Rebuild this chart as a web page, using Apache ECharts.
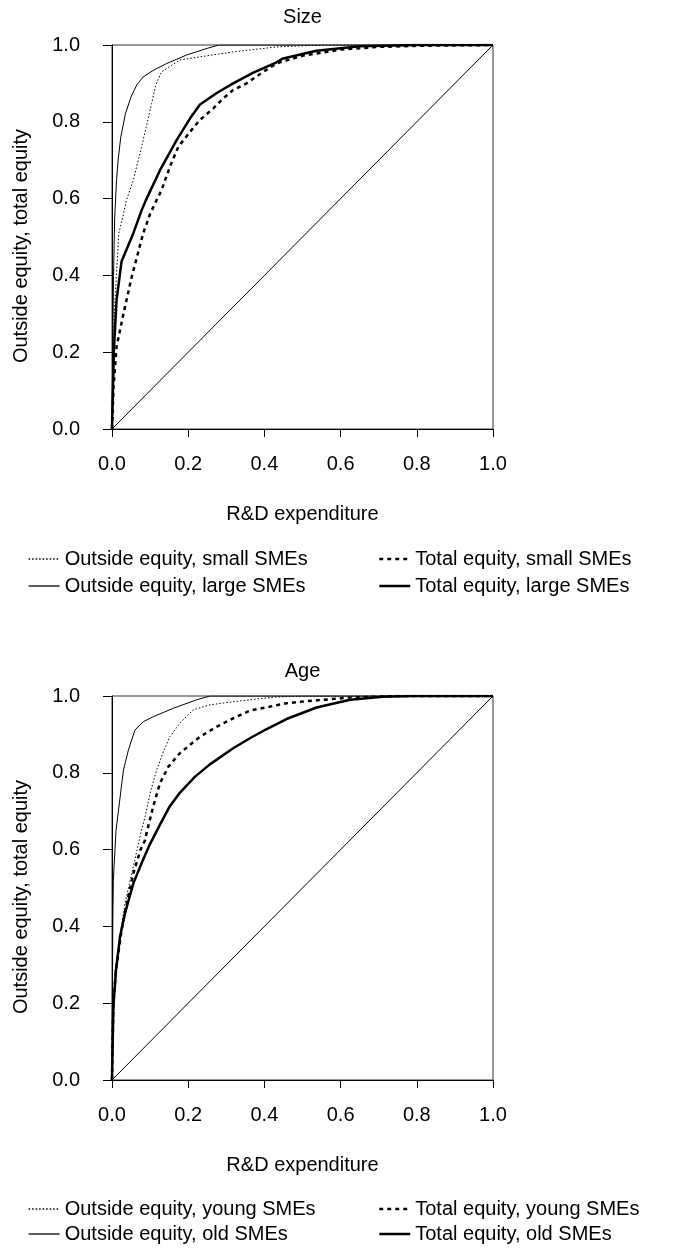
<!DOCTYPE html>
<html>
<head>
<meta charset="utf-8">
<script src="https://cdn.jsdelivr.net/npm/echarts@6/dist/echarts.min.js"></script>
<style>
html,body{margin:0;padding:0;background:#fff;}
#c{width:700px;height:1254px;}
</style>
</head>
<body>
<div id="c"></div>
<script>
// ---- data (x = share of R&D expenditure, y = cumulative share of equity) ----
var xTicks = ['0.0','0.2','0.4','0.6','0.8','1.0'];
var titles = ['Size','Age'];
var diagonal = [[0,0],[1,1]];

// Size panel
var sizeNames = ['Outside equity, small SMEs','Outside equity, large SMEs','Total equity, small SMEs','Total equity, large SMEs'];
var sizeOutSmall = [[0,0],[0.003,0.2],[0.008,0.34],[0.018,0.51],[0.03,0.56],[0.038,0.596],[0.056,0.648],[0.082,0.753],[0.104,0.848],[0.115,0.896],[0.13,0.93],[0.178,0.961],[0.25,0.972],[0.318,0.982],[0.432,0.995],[0.55,1],[1,1]];
var sizeOutLarge = [[0,0],[0.002,0.2],[0.004,0.4],[0.007,0.55],[0.012,0.65],[0.016,0.7],[0.023,0.76],[0.035,0.82],[0.05,0.865],[0.065,0.896],[0.082,0.917],[0.11,0.935],[0.144,0.952],[0.196,0.974],[0.249,0.991],[0.28,1],[1,1]];
var sizeTotSmall = [[0,0],[0.004,0.11],[0.012,0.214],[0.03,0.30],[0.052,0.397],[0.082,0.51],[0.1,0.56],[0.117,0.596],[0.13,0.622],[0.152,0.683],[0.174,0.735],[0.209,0.779],[0.231,0.805],[0.266,0.835],[0.292,0.861],[0.318,0.883],[0.353,0.9],[0.397,0.93],[0.432,0.952],[0.5,0.972],[0.6,0.988],[0.7,0.995],[0.8,0.998],[1,1]];
var sizeTotLarge = [[0,0],[0.005,0.206],[0.012,0.336],[0.025,0.436],[0.056,0.51],[0.078,0.57],[0.089,0.596],[0.126,0.674],[0.17,0.753],[0.205,0.809],[0.231,0.845],[0.275,0.875],[0.318,0.9],[0.371,0.928],[0.432,0.955],[0.449,0.965],[0.537,0.985],[0.65,0.997],[0.8,1],[1,1]];

// Age panel
var ageNames = ['Outside equity, young SMEs','Outside equity, old SMEs','Total equity, young SMEs','Total equity, old SMEs'];
var ageOutYoung = [[0,0],[0.008,0.286],[0.021,0.373],[0.034,0.46],[0.052,0.538],[0.075,0.64],[0.087,0.686],[0.1,0.747],[0.117,0.807],[0.135,0.855],[0.152,0.894],[0.178,0.929],[0.213,0.964],[0.257,0.977],[0.318,0.985],[0.423,0.997],[0.5,1],[1,1]];
var ageOutOld = [[0,0],[0.001,0.2],[0.002,0.4],[0.0035,0.52],[0.0105,0.65],[0.03,0.807],[0.043,0.859],[0.06,0.911],[0.082,0.933],[0.108,0.946],[0.161,0.968],[0.222,0.99],[0.257,1],[1,1]];
var ageTotYoung = [[0,0],[0.0035,0.2],[0.0105,0.286],[0.025,0.39],[0.039,0.46],[0.056,0.538],[0.075,0.6],[0.087,0.625],[0.09,0.64],[0.108,0.712],[0.126,0.773],[0.148,0.816],[0.178,0.851],[0.231,0.894],[0.275,0.92],[0.318,0.942],[0.362,0.962],[0.458,0.981],[0.493,0.985],[0.625,0.996],[0.75,1],[1,1]];
var ageTotOld = [[0,0],[0.0035,0.19],[0.0105,0.286],[0.021,0.373],[0.034,0.434],[0.056,0.512],[0.08,0.57],[0.1,0.615],[0.126,0.665],[0.15,0.71],[0.178,0.748],[0.218,0.79],[0.257,0.822],[0.318,0.864],[0.362,0.89],[0.406,0.914],[0.458,0.94],[0.537,0.97],[0.625,0.99],[0.711,0.998],[0.79,1],[1,1]];

// ---- chart ----
var FONT = '"Liberation Sans", Arial, Helvetica, sans-serif';
var styles = [
  {width:1, type:[1.5,2], lw:1.3},   // outside, first group (dotted)
  {width:1, type:'solid', lw:1.3},   // outside, second group (thin solid)
  {width:2.5, type:[4,4], lw:2.5},   // total, first group (thick dashed)
  {width:2.5, type:'solid', lw:2.5}  // total, second group (thick solid)
];
var grids = [
  {left:112, width:381, top:45, height:384},
  {left:112, width:381, top:696, height:384}
];
var txt = {color:'#000', fontFamily:FONT, fontSize:20};

function xAx(i){
  return {type:'value', gridIndex:i, min:0, max:1, interval:0.2,
    name:'R&D expenditure', nameLocation:'middle', nameGap:75, nameTextStyle:txt,
    axisLine:{lineStyle:{color:'#000', width:1}},
    axisTick:{length:8, lineStyle:{color:'#000'}},
    axisLabel:Object.assign({margin:25, formatter:function(v){return xTicks[Math.round(v/0.2)];}}, txt),
    splitLine:{show:false}};
}
function yAx(i){
  return {type:'value', gridIndex:i, min:0, max:1, interval:0.2,
    name:'Outside equity, total equity', nameLocation:'middle', nameGap:81,
    nameTextStyle:Object.assign({padding:[0,18,0,0]}, txt),
    axisLine:{lineStyle:{color:'#000', width:1}},
    axisTick:{length:9, lineStyle:{color:'#000'}},
    axisLabel:Object.assign({margin:32, formatter:function(v){return xTicks[Math.round(v/0.2)];}}, txt),
    splitLine:{show:false}};
}
function mk(name, data, st, i){
  return {type:'line', name:name, data:data, xAxisIndex:i, yAxisIndex:i,
    symbol:'none', smooth:false, silent:true, animation:false,
    itemStyle:{color:'#000'},
    lineStyle:{color:'#000', width:st.width, type:st.type}};
}
var series = [];
[[sizeNames,[sizeOutSmall,sizeOutLarge,sizeTotSmall,sizeTotLarge]],
 [ageNames,[ageOutYoung,ageOutOld,ageTotYoung,ageTotOld]]].forEach(function(p,i){
  series.push({type:'line', data:diagonal, xAxisIndex:i, yAxisIndex:i, symbol:'none', silent:true,
    animation:false, lineStyle:{color:'#000', width:1}});
  p[1].forEach(function(d,k){ series.push(mk(p[0][k], d, styles[k], i)); });
});

var legendRows = [[549,576],[1199,1224]];
var legends = [];
[sizeNames, ageNames].forEach(function(names,i){
  var pos = [[28,legendRows[i][0]],[28,legendRows[i][1]],[378,legendRows[i][0]],[378,legendRows[i][1]]];
  names.forEach(function(n,k){
    legends.push({data:[n], left:pos[k][0], top:pos[k][1], itemWidth:31, itemHeight:12,
      selectedMode:false, padding:0,
      itemStyle:{opacity:0, borderWidth:0},
      lineStyle:{color:'#000', width:styles[k].lw, type:styles[k].type, opacity:1},
      textStyle:{color:'#000', fontFamily:FONT, fontSize:20}});
  });
});

var chart = echarts.init(document.getElementById('c'), null, {renderer:'canvas'});
chart.setOption({
  animation:false,
  backgroundColor:'#fff',
  grid: grids.map(function(g){ return Object.assign({show:true, borderColor:'#333', borderWidth:1, backgroundColor:'transparent'}, g); }),
  xAxis:[xAx(0), xAx(1)],
  yAxis:[yAx(0), yAx(1)],
  legend: legends,
  graphic: [
    {type:'text', x:302.5, y:17, style:{text:titles[0], fill:'#000', font:'20px '+FONT, textAlign:'center', textVerticalAlign:'middle'}},
    {type:'text', x:302.5, y:671, style:{text:titles[1], fill:'#000', font:'20px '+FONT, textAlign:'center', textVerticalAlign:'middle'}}
  ],
  series: series
});
</script>
</body>
</html>
